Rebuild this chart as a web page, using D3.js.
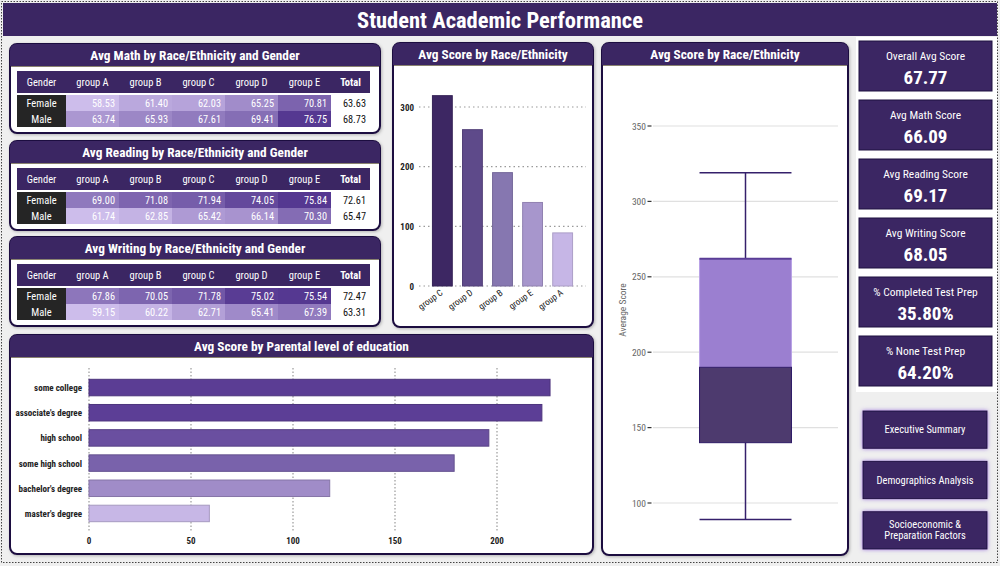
<!DOCTYPE html>
<html><head><meta charset="utf-8">
<script src="https://cdn.jsdelivr.net/npm/d3@7"></script>
<style>
body{margin:0;background:#fff;}
svg{display:block;font-family:"Liberation Sans Narrow","Roboto Condensed","DejaVu Sans Condensed",Roboto,sans-serif;}
</style></head><body><svg id="c" width="1000" height="566"></svg>
<script>
// ---------- DATA ----------
const groups = ["group A","group B","group C","group D","group E"];
const genders = ["Female","Male"];
const mathValues = [[58.53,61.40,62.03,65.25,70.81],[63.74,65.93,67.61,69.41,76.75]];
const mathTotals = [63.63,68.73];
const readingValues = [[69.00,71.08,71.94,74.05,75.84],[61.74,62.85,65.42,66.14,70.30]];
const readingTotals = [72.61,65.47];
const writingValues = [[67.86,70.05,71.78,75.02,75.54],[59.15,60.22,62.71,65.41,67.39]];
const writingTotals = [72.47,63.31];
const raceOrder = ["group C","group D","group B","group E","group A"];
const raceCounts = [319,262,190,140,89];
const raceTicks = [0,100,200,300];
const boxKeys = ["min","q1","median","q3","max"];
const boxValues = [89,140,190,262,319];
const boxTicks = [100,150,200,250,300,350];
const eduLevels = ["some college","associate's degree","high school","some high school","bachelor's degree","master's degree"];
const eduCounts = [226,222,196,179,118,59];
const eduTicks = [0,50,100,150,200];
const kpiLabels = ["Overall Avg Score","Avg Math Score","Avg Reading Score","Avg Writing Score","% Completed Test Prep","% None Test Prep"];
const kpiValues = ["67.77","66.09","69.17","68.05","35.80%","64.20%"];
const navButtons = [["Executive Summary"],["Demographics Analysis"],["Socioeconomic &","Preparation Factors"]];

// ---------- STYLES ----------
const PURPLE = "#3b2663", BORDER = "#1f1040";
const raceColors = ["#3d2763","#5e4a8a","#8677b0","#a796cc","#c6b6e6"];
const eduColors = ["#5b3d94","#5c3e96","#6a4fa0","#7962ab","#a08cc8","#c7b7e6"];

const svg = d3.select("#c");
const defs = svg.append("defs");
const sh = defs.append("filter").attr("id","sh").attr("x","-10%").attr("y","-10%").attr("width","120%").attr("height","120%");
sh.append("feDropShadow").attr("dx",1).attr("dy",1).attr("stdDeviation",1.5).attr("flood-color","#000").attr("flood-opacity",0.25);
const glow = defs.append("filter").attr("id","glow").attr("x","-20%").attr("y","-30%").attr("width","140%").attr("height","160%");
glow.append("feDropShadow").attr("dx",0).attr("dy",0).attr("stdDeviation",2).attr("flood-color","#8a5cd8").attr("flood-opacity",0.8);

// background
svg.append("rect").attr("width",1000).attr("height",566).attr("fill","#efefef");
svg.append("rect").attr("x",856).attr("y",37).attr("width",141).attr("height",355).attr("fill","#fff");
svg.append("rect").attr("x",1.5).attr("y",1.5).attr("width",996).attr("height",561)
  .attr("fill","none").attr("stroke","#444").attr("stroke-dasharray","1.5,1.5");

// title bar
svg.append("rect").attr("x",3).attr("y",3).attr("width",994).attr("height",33).attr("fill",PURPLE);
svg.append("text").attr("x",500).attr("y",28).attr("text-anchor","middle").attr("fill","#fff")
  .attr("font-size",22.5).attr("font-weight","bold").text("Student Academic Performance");

function topRounded(x,y,w,h,r){
  return `M${x},${y+h}V${y+r}Q${x},${y} ${x+r},${y}H${x+w-r}Q${x+w},${y} ${x+w},${y+r}V${y+h}Z`;
}
function panel(x,y,w,h,title){
  const g = svg.append("g");
  g.append("rect").attr("x",x).attr("y",y).attr("width",w).attr("height",h).attr("rx",7)
    .attr("fill","#fff").attr("stroke",BORDER).attr("stroke-width",2).attr("filter","url(#sh)");
  g.append("path").attr("d",topRounded(x,y,w,22,7)).attr("fill",PURPLE);
  g.append("line").attr("x1",x+1).attr("x2",x+w-1).attr("y1",y+22.5).attr("y2",y+22.5).attr("stroke","#8a8370").attr("stroke-width",1);
  g.append("text").attr("x",x+w/2).attr("y",y+16).attr("text-anchor","middle").attr("fill","#fff")
    .attr("font-size",13.3).attr("font-weight","bold").text(title);
  return g;
}

// ---------- TABLES ----------
function table(y0, title, values, totals){
  const g = panel(10,y0,370,89,title);
  const ty = y0+27;
  const col = d3.scaleBand().domain(groups).range([66,331]);
  const row = d3.scaleBand().domain(genders).range([ty+24,ty+56]);
  const flat = values.flat();
  const color = d3.scaleLinear().domain(d3.extent(flat)).range(["#cdbdeb","#553891"]);
  g.append("rect").attr("x",17).attr("y",ty).attr("width",353).attr("height",22).attr("fill",PURPLE);
  g.append("text").attr("x",41.5).attr("y",ty+14.5).attr("text-anchor","middle").attr("fill","#fff").attr("font-size",10.5).text("Gender");
  groups.forEach(gr=>g.append("text").attr("x",col(gr)+col.bandwidth()/2).attr("y",ty+14.5).attr("text-anchor","middle")
    .attr("fill","#fff").attr("font-size",10.5).text(gr));
  g.append("text").attr("x",350.5).attr("y",ty+14.5).attr("text-anchor","middle").attr("fill","#fff").attr("font-size",10.5).attr("font-weight","bold").text("Total");
  genders.forEach((gd,i)=>{
    g.append("rect").attr("x",17).attr("y",row(gd)).attr("width",49).attr("height",row.bandwidth()).attr("fill","#252525");
    g.append("text").attr("x",41.5).attr("y",row(gd)+11.5).attr("text-anchor","middle").attr("fill","#fff").attr("font-size",10.5).text(gd);
    groups.forEach((gr,j)=>{
      g.append("rect").attr("x",col(gr)).attr("y",row(gd)).attr("width",col.bandwidth()).attr("height",row.bandwidth()).attr("fill",color(values[i][j]));
      g.append("text").attr("x",col(gr)+col.bandwidth()-4).attr("y",row(gd)+11.5).attr("text-anchor","end")
        .attr("fill","#fff").attr("font-size",10.3).text(values[i][j].toFixed(2));
    });
    g.append("text").attr("x",366).attr("y",row(gd)+11.5).attr("text-anchor","end").attr("fill","#111").attr("font-size",10.3).text(totals[i].toFixed(2));
  });
}
table(44,"Avg Math by Race/Ethnicity and Gender",mathValues,mathTotals);
table(141,"Avg Reading by Race/Ethnicity and Gender",readingValues,readingTotals);
table(237,"Avg Writing by Race/Ethnicity and Gender",writingValues,writingTotals);

// ---------- RACE BAR CHART ----------
{
  const g = panel(393,43,200,284,"Avg Score by Race/Ethnicity");
  const x = d3.scaleBand().domain(raceOrder).range([418,587]).paddingInner(0.34).paddingOuter(0.48);
  const y = d3.scaleLinear().domain([0,300]).range([286,107]);
  g.selectAll(".gl").data(raceTicks).join("line").attr("x1",419).attr("x2",586)
    .attr("y1",d=>y(d)).attr("y2",d=>y(d)).attr("stroke","#9a9a9a").attr("stroke-width",1.2).attr("stroke-dasharray","1.5,3");
  g.selectAll(".yl").data(raceTicks).join("text").attr("x",414).attr("y",d=>y(d)+3.5).attr("text-anchor","end")
    .attr("font-size",9).attr("font-weight","bold").attr("fill","#222").text(d=>d);
  g.selectAll(".bar").data(raceOrder).join("rect").attr("x",d=>x(d)).attr("width",x.bandwidth())
    .attr("y",(d,i)=>y(raceCounts[i])).attr("height",(d,i)=>y(0)-y(raceCounts[i]))
    .attr("fill",(d,i)=>raceColors[i]).attr("stroke",(d,i)=>d3.color(raceColors[i]).darker(0.4)).attr("stroke-width",1);
  g.selectAll(".xl").data(raceOrder).join("text").attr("font-size",9).attr("fill","#222").attr("text-anchor","end")
    .attr("transform",d=>`translate(${x(d)+x.bandwidth()/2+1},${y(0)+8}) rotate(-36)`).text(d=>d);
}

// ---------- BOX PLOT ----------
{
  const g = panel(602,43,246,512,"Avg Score by Race/Ethnicity");
  const y = d3.scaleLinear().domain([100,350]).range([503,126]);
  const x = d3.scaleBand().domain(["all"]).range([653,838]).padding(0.336);
  const v = Object.fromEntries(boxKeys.map((k,i)=>[k,boxValues[i]]));
  g.selectAll(".gl").data(boxTicks).join("line").attr("x1",653).attr("x2",838)
    .attr("y1",d=>y(d)).attr("y2",d=>y(d)).attr("stroke","#e0e0e0").attr("stroke-width",1.2);
  g.selectAll(".tk").data(boxTicks).join("line").attr("x1",647.5).attr("x2",651.5)
    .attr("y1",d=>y(d)).attr("y2",d=>y(d)).attr("stroke","#333").attr("stroke-width",1.2);
  g.selectAll(".yl").data(boxTicks).join("text").attr("x",646).attr("y",d=>y(d)+3.5).attr("text-anchor","end")
    .attr("font-size",9.5).attr("fill","#666").text(d=>d);
  g.append("text").attr("transform","translate(626,310) rotate(-90)").attr("text-anchor","middle")
    .attr("font-size",9.5).attr("fill","#666").text("Average Score");
  const cx = x("all")+x.bandwidth()/2, bx = x("all"), bw = x.bandwidth();
  const wc = "#35206b";
  g.append("line").attr("x1",cx).attr("x2",cx).attr("y1",y(v.max)).attr("y2",y(v.q3)).attr("stroke",wc).attr("stroke-width",1.5);
  g.append("line").attr("x1",cx).attr("x2",cx).attr("y1",y(v.q1)).attr("y2",y(v.min)).attr("stroke",wc).attr("stroke-width",1.5);
  [v.max,v.min].forEach(d=>g.append("line").attr("x1",bx).attr("x2",bx+bw).attr("y1",y(d)).attr("y2",y(d)).attr("stroke",wc).attr("stroke-width",1.5));
  g.append("rect").attr("x",bx).attr("width",bw).attr("y",y(v.q3)).attr("height",y(v.median)-y(v.q3))
    .attr("fill","#9b7fd0").attr("stroke","#b9a2e6").attr("stroke-width",1);
  g.append("line").attr("x1",bx).attr("x2",bx+bw).attr("y1",y(v.q3)).attr("y2",y(v.q3)).attr("stroke","#5a3d96").attr("stroke-width",2);
  g.append("rect").attr("x",bx).attr("width",bw).attr("y",y(v.median)).attr("height",y(v.q1)-y(v.median))
    .attr("fill","#4d3a6e").attr("stroke","#2e1a66").attr("stroke-width",1);
}

// ---------- EDUCATION BARS ----------
{
  const g = panel(10,335,583,219,"Avg Score by Parental level of education");
  const x = d3.scaleLinear().domain([0,200]).range([89,497]);
  const y = d3.scaleBand().domain(eduLevels).range([372,529]).paddingInner(0.345).paddingOuter(0.29);
  g.selectAll(".gl").data(eduTicks).join("line").attr("x1",d=>x(d)).attr("x2",d=>x(d)).attr("y1",368).attr("y2",532)
    .attr("stroke","#9a9a9a").attr("stroke-width",1.2).attr("stroke-dasharray","1.5,2");
  g.selectAll(".bar").data(eduLevels).join("rect").attr("x",x(0)).attr("y",d=>y(d)).attr("height",y.bandwidth())
    .attr("width",(d,i)=>x(eduCounts[i])-x(0)).attr("fill",(d,i)=>eduColors[i])
    .attr("stroke",(d,i)=>d3.color(eduColors[i]).darker(0.5)).attr("stroke-width",1);
  g.selectAll(".yl").data(eduLevels).join("text").attr("x",82).attr("y",d=>y(d)+y.bandwidth()/2+3.5).attr("text-anchor","end")
    .attr("font-size",9).attr("font-weight","bold").attr("fill","#222").text(d=>d);
  g.selectAll(".xl").data(eduTicks).join("text").attr("x",d=>x(d)).attr("y",544).attr("text-anchor","middle")
    .attr("font-size",9).attr("font-weight","bold").attr("fill","#222").text(d=>d);
}

// ---------- KPI CARDS ----------
{
  const y = d3.scaleBand().domain(kpiLabels).range([41,386]).paddingInner(0.1525);
  const g = svg.append("g");
  kpiLabels.forEach((k,i)=>{
    g.append("rect").attr("x",859).attr("y",y(k)).attr("width",133).attr("height",y.bandwidth()).attr("fill",PURPLE).attr("stroke",BORDER);
    g.append("text").attr("x",925.5).attr("y",y(k)+19).attr("text-anchor","middle").attr("fill","#fff").attr("font-size",11.5).text(k);
    g.append("text").attr("x",925.5).attr("y",y(k)+43).attr("text-anchor","middle").attr("fill","#fff").attr("font-size",19).attr("font-weight","bold").text(kpiValues[i]);
  });
}
// ---------- NAV BUTTONS ----------
{
  const y = d3.scaleBand().domain(navButtons.map(d=>d.join(" "))).range([411,549]).paddingInner(0.26);
  const g = svg.append("g");
  navButtons.forEach(lines=>{
    const k = lines.join(" ");
    g.append("rect").attr("x",863).attr("y",y(k)).attr("width",124).attr("height",y.bandwidth()).attr("fill",PURPLE).attr("stroke",BORDER).attr("filter","url(#glow)");
    const mid = y(k)+y.bandwidth()/2;
    lines.forEach((t,j)=>g.append("text").attr("x",925).attr("y",mid+3.5+(j-(lines.length-1)/2)*11).attr("text-anchor","middle")
      .attr("fill","#fff").attr("font-size",10.5).text(t));
  });
}
</script></body></html>
